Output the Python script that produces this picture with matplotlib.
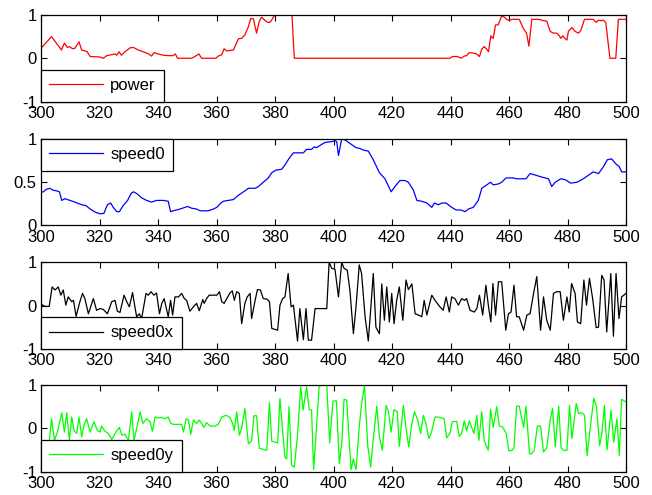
import matplotlib
matplotlib.use("Agg")
import matplotlib.pyplot as plt

plt.rcParams['font.family'] = ['Liberation Sans', 'DejaVu Sans']

# ---------------- data ----------------
power_x = [300,303.6,307,308,309,309.7,310.8,311.6,313,313.9,315,315.8,316.8,320,321.3,322.5,324,325.3,325.9,326.7,327.5,328.7,330.4,331.6,333.3,335,336.8,337.8,338.7,340,341.8,343.5,345.2,345.9,346.7,351.5,352.6,354,354.9,359.8,360.6,361.8,362.6,363.5,364.6,365.8,366.3,367.5,368.6,369.7,370.9,371.7,372.6,373.7,374.6,375.4,376.5,377.5,378.3,379.1,379.8,385.8,386.6,439.8,440.7,442.3,443.7,444.7,445.5,446.4,447.6,448.9,449.9,450.7,451.5,452.4,453,453.8,454.3,454.6,455.4,456.3,457.5,458.4,459.2,460.1,460.9,463.5,464.9,466,466.8,467.8,470.1,471.8,472.9,474.1,475.2,476.3,477.2,477.7,478.4,478.8,479.8,480.3,481.5,482.6,483.8,484.6,485.8,488.8,489.8,490.6,491.4,492.3,493.1,494.5,496.5,497.4,500]
power_y = [0.23,0.5,0.19,0.35,0.25,0.27,0.22,0.23,0.38,0.19,0.17,0.15,0.04,0.03,0.0,0.06,0.08,0.10,0.07,0.15,0.07,0.15,0.24,0.25,0.19,0.15,0.10,0.05,0.13,0.10,0.07,0.06,0.06,0.10,0.0,0.0,0.04,0.10,0.0,0.0,0.05,0.08,0.22,0.17,0.18,0.19,0.27,0.45,0.46,0.54,0.73,0.92,0.91,0.58,0.85,0.95,0.88,0.83,0.83,0.91,1.0,1.0,0.0,0.0,0.04,0.04,0.0,0.05,0.06,0.13,0.12,0.10,0.04,0.21,0.27,0.21,0.15,0.52,0.48,0.46,0.77,0.77,0.98,0.95,0.90,0.87,0.90,0.90,0.69,0.58,0.28,0.90,0.90,0.87,0.86,0.62,0.58,0.58,0.52,0.46,0.52,0.48,0.42,0.62,0.71,0.62,0.58,0.65,0.90,0.90,0.83,0.88,0.87,0.88,0.82,0.0,0.0,0.90,0.90]

speed0_x = [300,300.8,301.9,303.1,304,305.4,306.3,307.1,308.2,309.9,311.6,313.9,315.4,316.8,318.5,320.2,321.5,322.7,323.8,324.7,325.9,326.8,328.1,329.6,330.8,331.6,332.7,334.4,336.1,337.8,339.5,341.8,343.5,344.3,345.2,347.5,349.2,350.1,351.5,353.2,354.4,357.2,358.9,360.1,361.2,362.3,364,365.8,367.5,369.7,370.9,373.2,374.3,376,377.7,378.9,380.3,382.3,383.4,384.9,386.3,389.7,390.8,392.5,393.4,394.2,395.6,397.1,399.4,400.5,401.1,401.7,402.8,403.9,405.6,407.7,409,410.4,411.9,413.6,415.7,417.6,419.7,421,422.7,424.4,425.6,427.3,428.5,430.2,431.9,433.6,434.5,435.8,437,438.5,440.4,441.9,443.5,445,446.1,447.8,449.5,450.7,452.4,453.7,454.6,456.3,457.5,459,461.5,462.6,465.8,467.2,469.3,471.2,473.5,474.6,475.8,477.7,479.2,481.1,483.2,485.4,487.1,488.8,490.6,492.3,493.6,495.1,496.6,497.7,498.5,500]
speed0_y = [0.38,0.39,0.42,0.43,0.41,0.40,0.39,0.29,0.31,0.29,0.27,0.24,0.23,0.19,0.155,0.135,0.14,0.24,0.26,0.21,0.16,0.16,0.23,0.29,0.37,0.39,0.37,0.32,0.29,0.27,0.29,0.29,0.28,0.16,0.17,0.19,0.21,0.22,0.20,0.19,0.17,0.17,0.19,0.21,0.25,0.28,0.29,0.30,0.35,0.40,0.43,0.43,0.45,0.50,0.55,0.61,0.64,0.65,0.70,0.78,0.84,0.84,0.88,0.88,0.91,0.90,0.93,0.96,0.97,0.98,0.97,0.81,1.0,0.99,0.95,0.90,0.89,0.87,0.86,0.76,0.61,0.54,0.39,0.45,0.52,0.52,0.50,0.41,0.29,0.28,0.26,0.21,0.26,0.24,0.26,0.26,0.21,0.18,0.18,0.16,0.19,0.21,0.29,0.43,0.47,0.50,0.47,0.48,0.50,0.55,0.55,0.54,0.54,0.60,0.58,0.56,0.54,0.45,0.50,0.54,0.53,0.49,0.50,0.54,0.58,0.62,0.60,0.68,0.76,0.77,0.71,0.68,0.62,0.62]

speed0x_x = [300,301.4,302.8,303.8,304.8,305.9,306.8,307.6,308.5,309.3,310.5,311.1,312,313.3,314.2,315,316.2,317.9,319,320.2,321.3,322.7,324.2,325.3,326.1,327,328.4,329.3,330.2,331.3,332.1,332.7,333.6,334.4,335.9,336.7,337.6,338.6,339.5,340.5,341.3,342.1,343,343.5,344.3,345,345.8,347,348.1,349,349.8,350.9,352.1,353.2,354.1,355.3,355.8,356.6,357.5,358.9,360.1,361,361.8,362.6,363.5,364.6,365.4,366.1,366.9,367.8,368.6,369.7,370.5,371.5,372,373.2,374,375,376,377.2,378.1,378.9,380,380.9,381.7,382.6,383.4,384.5,385.5,386.3,387.7,388.5,389.7,390.6,391.4,392.5,393.7,397.7,398.5,399.4,400.5,401.7,402.8,403.6,404.7,405.6,406.8,407.7,408.8,409.6,410.8,411.9,412.7,413.6,414.5,415.7,416.5,417.4,418.2,419.1,419.9,420.7,421.6,422.5,423.7,424.8,425.6,426.2,426.8,427.9,429.1,430.2,431,431.9,433.6,434.7,436.4,437.5,438.5,439.6,440.4,441.5,442.7,443.8,444.8,445.5,446.7,448.1,449,449.9,451,452.1,453,453.8,454.5,455.4,456.4,457.5,458.9,459.8,460.7,461.7,462.6,463.5,465,466.1,467.2,468.4,469.5,470.8,471.8,472.9,474.1,475.2,476.3,477.5,478.6,479.8,480.6,481.4,482.6,483.4,484.5,485.6,486.5,487.5,488.6,489.8,490.6,491.7,492.5,493.4,494.8,495.7,496.6,497.6,498.5,500]
speed0x_y = [0.03,-0.02,-0.02,0.43,0.36,0.43,0.24,0.36,0.01,0.2,0.09,0.12,-0.25,0.09,0.28,0.16,-0.19,0.16,-0.11,-0.07,-0.09,-0.19,0.09,0.12,-0.13,-0.16,0.24,0.09,-0.03,0.3,-0.03,-0.26,-0.19,-0.3,0.28,0.24,0.32,0.24,0.29,-0.19,0.05,0.16,-0.11,-0.26,0.12,-0.22,0.2,0.2,0.28,0.16,0.12,-0.13,-0.03,0.05,-0.12,0.14,0.05,0.16,0.24,0.24,0.24,0.32,0.09,0.05,0.16,0.29,0.34,0.12,0.32,0.28,-0.42,0.05,0.2,0.28,-0.3,0.12,0.37,0.36,0.16,0.15,0.09,-0.53,-0.55,-0.57,0.01,0.16,0.2,0.74,-0.03,0.01,-0.82,-0.07,-0.79,-0.07,-0.8,-0.8,-0.07,-0.07,1.0,0.86,0.84,0.2,1.0,0.86,0.82,0.36,-0.65,-0.03,0.94,0.74,-0.26,-0.82,-0.11,0.74,-0.5,-0.65,0.5,-0.34,0.43,-0.38,0.28,-0.42,0.12,0.43,-0.34,0.59,0.37,0.43,0.5,-0.19,-0.22,-0.26,0.12,-0.22,0.24,0.12,-0.03,-0.11,0.2,-0.15,0.2,0.16,0.01,0.16,0.12,0.16,-0.11,-0.15,-0.07,0.24,-0.22,0.47,-0.03,-0.38,0.51,-0.22,0.55,0.55,-0.57,-0.19,-0.15,0.47,-0.26,-0.26,-0.57,-0.22,-0.19,0.28,0.67,-0.57,0.2,-0.34,-0.57,0.28,0.32,0.32,-0.34,0.2,-0.15,0.51,0.28,-0.38,-0.42,0.59,0.01,0.63,0.16,-0.51,-0.5,0.7,0.59,-0.61,0.74,-0.71,0.74,-0.3,0.2,0.28]

speed0y_x = [300,301.9,302.8,303.6,304.6,305.6,307.1,308,308.8,309.7,310.5,311.3,312.2,313,313.9,314.7,315.6,316.8,318.1,319.3,320.2,320.7,321.9,323,324.2,325.6,326.8,327.6,328.7,329.9,331,331.8,332.7,333.9,334.8,336.1,337.3,338.1,339,340.1,341.3,342.4,343.5,344.3,345.2,346.4,348.1,348.7,349.6,350.4,351.2,352.1,353.2,354.1,354.9,355.7,356.6,357.8,359.5,360.6,361.8,363.3,364.6,365.5,366.1,366.9,367.8,368.6,369.7,370.9,372,372.8,373.7,374.6,376,377.2,378.1,378.9,380,380.9,381.7,382.6,383.4,384,384.8,385.7,386.6,387.7,388.8,389.6,390.8,391.7,392.5,393.2,394.2,395.1,397.1,397.7,398.7,399.8,401,402,402.9,403.6,404.5,406,406.8,407.7,408.8,409.6,410.6,411.7,412.7,413.6,414.8,415.7,416.7,418,418.8,419.7,420.7,421.8,422.5,423.9,424.8,425.7,426.8,427.7,428.8,429.8,430.7,431.6,432.6,433.5,434.7,435.8,437.8,438.7,439.8,440.6,442.1,443,443.8,444.7,445.5,446.4,447.2,448,449,449.7,450.7,451.5,452.9,453.7,454.6,455.8,456.7,457.8,459,460,461,461.7,462.6,463.5,465,465.8,467,467.8,468.6,469.7,470.8,471.8,472.9,474.1,474.9,475.8,477,477.8,478.7,479.8,480.7,481.5,483,483.8,484.9,485.8,486.7,487.8,489,489.9,491,491.8,492.6,493.5,494.9,495.8,496.9,497.7,498.5,500]
speed0y_y = [-0.3,-0.29,-0.32,0.22,-0.28,-0.09,0.36,-0.09,0.36,-0.28,0.26,-0.05,-0.12,0.26,-0.2,0.07,0.22,-0.09,0.15,-0.05,-0.09,0.05,-0.07,-0.12,-0.26,-0.09,0.02,-0.16,-0.14,-0.28,0.38,-0.28,-0.01,0.38,0.11,0.22,0.15,-0.07,0.26,0.24,0.25,0.22,0.26,0.12,0.09,0.09,0.09,-0.09,0.22,0.19,-0.14,0.19,0.11,0.19,0.11,0.02,0.13,0.05,0.05,0.09,0.26,0.3,0.25,0.11,-0.05,0.38,-0.16,0.0,0.46,-0.36,-0.29,0.29,0.29,-0.46,-0.49,-0.51,0.59,-0.3,-0.32,-0.34,0.69,-0.05,-0.67,-0.71,0.5,-0.86,-0.9,-0.16,0.96,0.42,0.96,0.43,0.42,-0.96,0.03,0.98,1.0,1.0,-0.34,0.63,0.63,-0.82,-0.28,0.67,0.65,-0.96,-0.71,-0.96,0.03,0.57,0.98,-0.4,-0.9,-0.24,0.51,-0.2,-0.51,0.53,0.38,-0.09,0.43,0.38,-0.42,0.53,0.0,-0.43,0.11,0.38,0.19,-0.12,0.3,0.11,-0.24,-0.09,0.26,0.26,0.22,-0.22,-0.12,0.15,0.16,-0.19,-0.12,0.17,-0.06,0.17,0.03,-0.12,0.3,-0.28,0.38,-0.28,-0.51,0.44,0.02,0.5,0.05,0.03,-0.11,-0.53,-0.51,-0.46,0.51,0.51,0.02,0.51,-0.59,-0.59,-0.51,0.05,0.05,-0.55,-0.45,0.19,0.46,-0.43,0.51,-0.45,-0.51,-0.51,0.53,-0.24,0.57,0.34,0.36,0.3,-0.63,0.03,0.69,0.5,-0.40,-0.09,0.53,-0.5,0.42,-0.32,0.22,-0.63,0.67,0.61]

series = [
    (power_x, power_y, 'power', '#ff0000', 'lower left', [-1, 0, 1], ['-1', '0', '1'], (-1, 1)),
    (speed0_x, speed0_y, 'speed0', '#0000ff', 'upper left', [0, 0.5, 1], ['0', '0.5', '1'], (0, 1)),
    (speed0x_x, speed0x_y, 'speed0x', '#000000', 'lower left', [-1, 0, 1], ['-1', '0', '1'], (-1, 1)),
    (speed0y_x, speed0y_y, 'speed0y', '#00ff00', 'lower left', [-1, 0, 1], ['-1', '0', '1'], (-1, 1)),
]
xticks = [300, 320, 340, 360, 380, 400, 420, 440, 460, 480, 500]

fig = plt.figure(figsize=(6.52, 4.95), dpi=100)
W, H = 652, 495
left, right = 41, 626
tops = [15, 139, 262.3, 385]
ph = 86.5
for (xs, ys, name, col, loc, yt, ytl, yl), top in zip(series, tops):
    ax = fig.add_axes([left / W, 1 - (top + ph) / H, (right - left) / W, ph / H])
    ax.plot(xs, ys, color=col, lw=0.9, label=name)
    ax.set_xlim(300, 500)
    ax.set_ylim(*yl)
    ax.set_xticks(xticks)
    ax.set_xticklabels([str(t) for t in xticks])
    ax.set_yticks(yt)
    ax.set_yticklabels(ytl)
    ax.tick_params(direction='in', top=True, right=True, length=4, width=0.8,
                   labelsize=12, pad=3)
    for s in ax.spines.values():
        s.set_linewidth(0.9)
    leg = ax.legend(loc=loc, borderaxespad=0, fancybox=False, framealpha=1,
                    edgecolor='black', fontsize=12, handlelength=3.2,
                    handletextpad=0.45, borderpad=0.5)
    leg.get_frame().set_linewidth(0.9)

fig.savefig('out.png', dpi=100)
